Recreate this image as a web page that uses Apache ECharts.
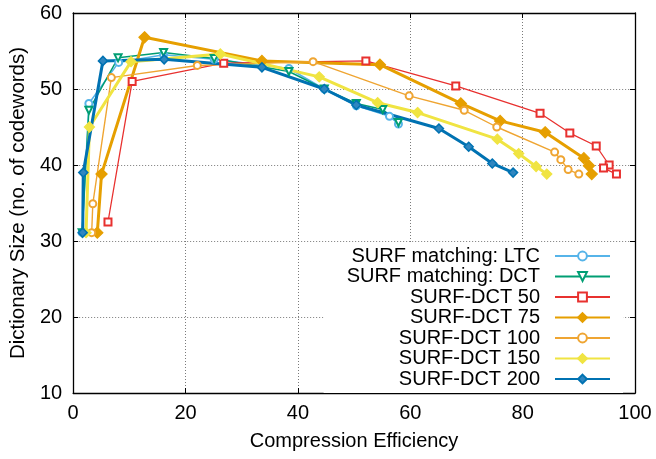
<!DOCTYPE html>
<html>
<head>
<meta charset="utf-8">
<script src="https://cdn.jsdelivr.net/npm/echarts@6/dist/echarts.min.js"></script>
<style>
  html, body { margin: 0; padding: 0; background: #fff; }
  #chart { width: 656px; height: 459px; }
</style>
</head>
<body>
<div id="chart"></div>
<script>
// Series names, in drawing order
const seriesNames = [
  'SURF matching: LTC',
  'SURF matching: DCT',
  'SURF-DCT 50',
  'SURF-DCT 75',
  'SURF-DCT 100',
  'SURF-DCT 150',
  'SURF-DCT 200'
];

// Compression efficiency (x) and dictionary size (y) per series
const ltcX = [1.6, 2.8, 8.1, 16.1, 25.1, 38.4, 44.7, 50.4, 56.3, 57.9];
const ltcY = [31.1, 48.1, 53.5, 54.5, 53.9, 52.7, 50.0, 47.8, 46.4, 45.4];

const dctX = [1.6, 2.8, 8.0, 16.1, 25.1, 38.4, 44.7, 50.4, 55.1, 57.9];
const dctY = [31.1, 47.2, 54.1, 54.8, 54.0, 52.3, 50.0, 48.1, 47.3, 45.6];

const d50X = [6.2, 10.5, 26.8, 52.1, 68.1, 83.1, 88.4, 93.1, 95.4, 94.4, 96.7];
const d50Y = [32.5, 51.0, 53.4, 53.7, 50.4, 46.8, 44.2, 42.5, 40.0, 39.6, 38.8];

const d75X = [4.3, 5.05, 12.7, 33.6, 54.6, 69.0, 76.0, 84.0, 90.9, 91.8, 92.3];
const d75Y = [31.1, 38.8, 56.8, 53.7, 53.2, 48.1, 45.8, 44.3, 40.9, 39.9, 38.8];

const d100X = [3.3, 3.5, 6.8, 22.1, 42.7, 59.8, 69.6, 75.4, 85.7, 86.8, 88.1, 90.0];
const d100Y = [31.1, 34.9, 51.5, 53.1, 53.6, 49.1, 47.2, 45.0, 41.7, 40.7, 39.4, 38.8];

const d150X = [2.3, 2.9, 10.3, 26.2, 43.8, 54.2, 61.3, 75.5, 79.3, 82.4, 84.3];
const d150Y = [31.1, 45.0, 53.6, 54.6, 51.6, 48.2, 46.9, 43.4, 41.5, 39.8, 38.8];

const d200X = [1.7, 1.8, 5.3, 16.2, 33.6, 44.7, 50.4, 65.1, 70.4, 74.6, 78.3];
const d200Y = [31.1, 39.0, 53.7, 53.9, 52.85, 50.0, 47.9, 44.8, 42.4, 40.2, 39.0];

// Axis ranges and ticks
const xTicks = { min: 0, max: 100, interval: 20 };
const yTicks = { min: 10, max: 60, interval: 10 };
const xTitle = 'Compression Efficiency';
const yTitle = 'Dictionary Size (no. of codewords)';

const FONT = '"Liberation Sans", Arial, Helvetica, sans-serif';

function pairs(xs, ys) {
  return xs.map((x, i) => [x, ys[i]]);
}

function lineSeries(name, xs, ys, color, width, symbol, size, extra) {
  return Object.assign({
    name: name,
    type: 'line',
    data: pairs(xs, ys),
    symbol: symbol,
    symbolSize: size,
    showAllSymbol: true,
    animation: false,
    lineStyle: { color: color, width: width },
    itemStyle: { color: color, borderColor: color, borderWidth: 1.3 },
    emphasis: { disabled: true }
  }, extra || {});
}

const chart = echarts.init(document.getElementById('chart'), null, { renderer: 'canvas' });

const gridLine = { show: true, lineStyle: { color: '#7a7a7a', width: 1, type: [1, 2] } };

const option = {
  backgroundColor: '#fff',
  animation: false,
  textStyle: { fontFamily: FONT },
  grid: { left: 67, right: 21, top: 13, bottom: 66, containLabel: false },
  xAxis: [
    {
      type: 'value', position: 'bottom',
      min: xTicks.min, max: xTicks.max, interval: xTicks.interval,
      name: xTitle, nameLocation: 'middle', nameGap: 38,
      nameTextStyle: { fontSize: 20, color: '#000', fontFamily: FONT },
      axisLine: { show: true, onZero: false, lineStyle: { color: '#000', width: 1.3 } },
      axisTick: { show: true, inside: true, length: 5, lineStyle: { color: '#000', width: 1 } },
      axisLabel: { fontSize: 20, color: '#000', margin: 10, fontFamily: FONT },
      splitLine: gridLine
    },
    {
      type: 'value', position: 'top',
      min: xTicks.min, max: xTicks.max, interval: xTicks.interval,
      axisLine: { show: true, onZero: false, lineStyle: { color: '#000', width: 1.3 } },
      axisTick: { show: true, inside: true, length: 5, lineStyle: { color: '#000', width: 1 } },
      axisLabel: { show: false },
      splitLine: { show: false }
    }
  ],
  yAxis: [
    {
      type: 'value', position: 'left',
      min: yTicks.min, max: yTicks.max, interval: yTicks.interval,
      name: yTitle, nameLocation: 'middle', nameGap: 34, nameRotate: 90,
      nameTextStyle: { fontSize: 20.5, color: '#000', fontFamily: FONT },
      axisLine: { show: true, onZero: false, lineStyle: { color: '#000', width: 1.3 } },
      axisTick: { show: true, inside: true, length: 5, lineStyle: { color: '#000', width: 1 } },
      axisLabel: { fontSize: 20, color: '#000', margin: 11, fontFamily: FONT },
      splitLine: gridLine
    },
    {
      type: 'value', position: 'right',
      min: yTicks.min, max: yTicks.max, interval: yTicks.interval,
      axisLine: { show: true, onZero: false, lineStyle: { color: '#000', width: 1.3 } },
      axisTick: { show: true, inside: true, length: 5, lineStyle: { color: '#000', width: 1 } },
      axisLabel: { show: false },
      splitLine: { show: false }
    }
  ],
  legend: {
    orient: 'vertical',
    align: 'right',
    right: 33,
    top: 244,
    padding: [2, 12, 4, 23],
    backgroundColor: '#fff',
    itemWidth: 55,
    itemHeight: 11,
    itemGap: 0.5,
    selectedMode: false,
    data: seriesNames,
    textStyle: { fontSize: 20, color: '#000', fontFamily: FONT, lineHeight: 20, padding: [0, 10, 0, 0] }
  },
  series: [
    lineSeries(seriesNames[0], ltcX, ltcY, '#56B4E9', 1.5, 'emptyCircle', 7),
    lineSeries(seriesNames[1], dctX, dctY, '#009E73', 1.5, 'emptyTriangle', 7, { symbolRotate: 180 }),
    lineSeries(seriesNames[2], d50X, d50Y, '#E8312F', 1.3, 'emptyRect', 7),
    lineSeries(seriesNames[3], d75X, d75Y, '#E69F00', 3, 'diamond', 11),
    lineSeries(seriesNames[4], d100X, d100Y, '#EFA532', 1.4, 'emptyCircle', 7),
    lineSeries(seriesNames[5], d150X, d150Y, '#F0E442', 3, 'diamond', 10),
    lineSeries(seriesNames[6], d200X, d200Y, '#0072B2', 3, 'diamond', 9,
      { itemStyle: { color: '#2f86c0', borderColor: '#0072B2', borderWidth: 1.5 } })
  ]
};

chart.setOption(option);
</script>
</body>
</html>
